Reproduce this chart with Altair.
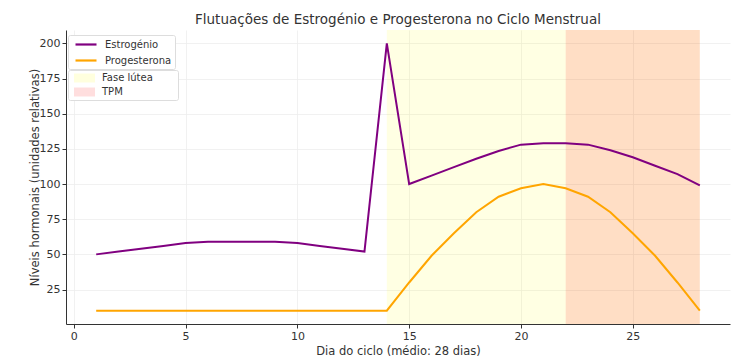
import altair as alt
import pandas as pd

days = list(range(1, 29))
estrogen = [50, 52, 54, 56, 58, 59, 59, 59, 59, 58, 56, 54, 52, 200,
            100, 106, 112, 118, 123.5, 128, 129, 129, 128, 124, 119, 113, 107, 99]
progesterone = [10, 10, 10, 10, 10, 10, 10, 10, 10, 10, 10, 10, 10, 10,
                30, 49, 65, 80, 91, 97, 100, 97, 91, 80, 65, 49, 30, 10]

phase_names = ["Fase lútea", "TPM"]
phase_start = [14, 22]
phase_end = [28, 28]

line_names = ["Estrogénio", "Progesterona"]
line_colors = ["#800080", "#FFA500"]

lines_df = pd.DataFrame({
    "dia": days * 2,
    "valor": estrogen + progesterone,
    "hormona": ["Estrogénio"] * len(days) + ["Progesterona"] * len(days),
})
spans_df = pd.DataFrame({"fase": phase_names, "inicio": phase_start, "fim": phase_end})

W, H = 664, 294
FONT = "DejaVu Sans"

xscale = alt.Scale(domain=[-0.35, 29.35], nice=False, zero=False)
yscale = alt.Scale(domain=[0.5, 209.5], nice=False, zero=False)

common_legend = dict(title=None, orient="none", labelFontSize=10, labelFont=FONT,
                     labelColor="#333", rowPadding=4, padding=3, symbolSize=100,
                     labelOffset=21, fillColor="white", strokeColor="#dddddd",
                     cornerRadius=2)

BL = "\u2800"
pad_expr = ("datum.label == 'TPM' ? 'TPM" + BL * 7 + "' : datum.label + '" + BL * 2 + "'")

spans = alt.Chart(spans_df).mark_rect().encode(
    x=alt.X("inicio:Q", scale=xscale),
    x2="fim:Q",
    fill=alt.Fill("fase:N",
                  scale=alt.Scale(domain=phase_names, range=["#FFFF00", "#FF0000"]),
                  legend=alt.Legend(legendX=2, legendY=40,
                                    symbolType="M-0.4,-0.9H3.8V0.9H-0.4Z",
                                    symbolOpacity=0.13, symbolStrokeWidth=0,
                                    labelExpr=pad_expr,
                                    **common_legend)),
    fillOpacity=alt.FillOpacity("fase:N",
                                scale=alt.Scale(domain=phase_names, range=[0.11, 0.13]),
                                legend=None),
)

lines = alt.Chart(lines_df).mark_line(strokeWidth=2).encode(
    x=alt.X("dia:Q", scale=xscale,
            axis=alt.Axis(title="Dia do ciclo (médio: 28 dias)", values=[0, 5, 10, 15, 20, 25],
                          format="d")),
    y=alt.Y("valor:Q", scale=yscale,
            axis=alt.Axis(title="Níveis hormonais (unidades relativas)",
                          values=[25, 50, 75, 100, 125, 150, 175, 200], format="d")),
    color=alt.Color("hormona:N",
                    scale=alt.Scale(domain=line_names, range=line_colors),
                    legend=alt.Legend(legendX=2, legendY=5,
                                      symbolType="M-0.4,0H3.8", symbolStrokeWidth=2.2,
                                      **common_legend)),
)

chart = alt.layer(spans, lines).properties(
    width=W, height=H,
    title=alt.Title("Flutuações de Estrogénio e Progesterona no Ciclo Menstrual",
                    fontSize=13.5, fontWeight="normal", font=FONT, color="#333", offset=4),
    autosize=alt.AutoSizeParams(type="none"),
    padding={"left": 66, "top": 30, "right": 20, "bottom": 35},
).configure_view(stroke=None).configure_axis(
    labelFont=FONT, titleFont=FONT, labelFontSize=11, titleFontSize=11.5,
    labelColor="#333", titleColor="#333", titleFontWeight="normal",
    domainColor="#333", tickColor="#333", gridColor="#eeeeee", gridWidth=0.8,
    tickSize=4,
).configure_axisX(titlePadding=4).configure_axisY(titlePadding=-1)

chart.save("out.html", embed_options={"renderer": "svg", "actions": False})
